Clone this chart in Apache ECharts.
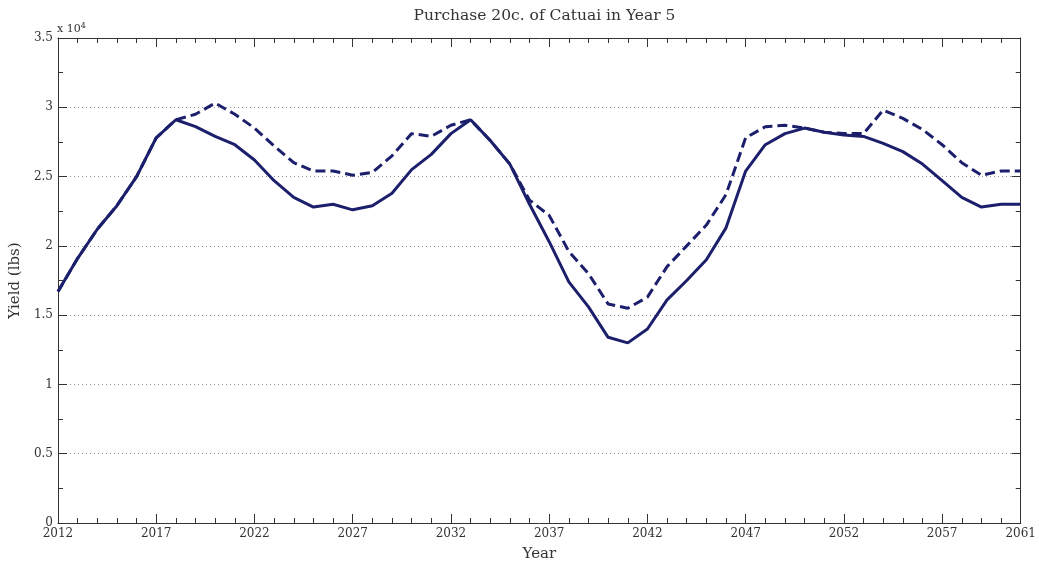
<!DOCTYPE html>
<html>
<head>
<meta charset="utf-8">
<script src="https://cdn.jsdelivr.net/npm/echarts@6/dist/echarts.min.js"></script>
<style>
html,body{margin:0;padding:0;background:#fff;}
#chart{width:1039px;height:567px;}
</style>
</head>
<body>
<div id="chart"></div>
<script>
const years = [2012,2013,2014,2015,2016,2017,2018,2019,2020,2021,2022,2023,2024,2025,2026,2027,2028,2029,2030,2031,2032,2033,2034,2035,2036,2037,2038,2039,2040,2041,2042,2043,2044,2045,2046,2047,2048,2049,2050,2051,2052,2053,2054,2055,2056,2057,2058,2059,2060,2061];
const baseline = [16700,19100,21200,22900,25000,27800,29100,28600,27900,27300,26200,24700,23500,22800,23000,22600,22900,23800,25500,26600,28100,29100,27600,25900,23000,20300,17400,15600,13400,13000,14000,16100,17500,19000,21300,25400,27300,28100,28500,28200,28000,27900,27400,26800,25900,24700,23500,22800,23000,23000];
const purchase = [16700,19100,21200,22900,25000,27800,29100,29500,30300,29500,28500,27200,26000,25400,25400,25100,25300,26500,28100,27900,28700,29100,27600,25900,23300,22200,19600,18000,15800,15500,16300,18500,20000,21500,23700,27800,28600,28700,28500,28200,28100,28100,29800,29200,28400,27300,26000,25100,25400,25400];
const xTickYears = [2012,2017,2022,2027,2032,2037,2042,2047,2052,2057,2061];
const yTickValues = [0,5000,10000,15000,20000,25000,30000,35000];

const firstYear = years[0];
const lastYear = years[years.length-1];
const lineColor = '#1c1f6b';
const axisColor = '#333333';
const fontFam = 'DejaVu Serif';

const chart = echarts.init(document.getElementById('chart'), null, {renderer:'canvas'});

const xCommon = {
  type:'value', min:0, max:lastYear-firstYear, interval:5,
  axisLine:{show:true, onZero:false, lineStyle:{color:axisColor, width:1}},
  axisTick:{show:true, inside:true, length:9, lineStyle:{color:axisColor}},
  minorTick:{show:true, splitNumber:5, length:5, lineStyle:{color:axisColor}},
  splitLine:{show:false}
};
const yCommon = {
  type:'value', min:0, max:35000, interval:5000,
  axisLine:{show:true, onZero:false, lineStyle:{color:axisColor, width:1}},
  axisTick:{show:true, inside:true, length:9, lineStyle:{color:axisColor}},
  minorTick:{show:true, splitNumber:2, length:5, lineStyle:{color:axisColor}}
};

chart.setOption({
  animation:false,
  backgroundColor:'#ffffff',
  title:{
    text:'Purchase 20c. of Catuai in Year 5',
    left:539.5, top:3, textAlign:'center',
    textStyle:{fontFamily:fontFam, fontWeight:'normal', fontSize:15.5, color:'#333'}
  },
  grid:{left:57, right:17, top:38, bottom:39, containLabel:false},
  graphic:[{
    type:'text', left:57, top:22,
    style:{
      text:'x 10{s|4}',
      rich:{s:{fontSize:8, verticalAlign:'top', padding:[0,0,6,0], fontFamily:fontFam, fill:'#333'}},
      fontFamily:fontFam, fontSize:11, fill:'#333'
    }
  }],
  xAxis:[
    Object.assign({}, xCommon, {
      position:'bottom',
      name:'Year', nameLocation:'middle', nameGap:24,
      nameTextStyle:{fontFamily:fontFam, fontSize:15, color:'#333'},
      axisLabel:{show:true, margin:5, fontFamily:fontFam, fontSize:12, color:'#333',
        showMinLabel:true, showMaxLabel:true,
        formatter:function(v){ const y = Math.round(v)+firstYear; return xTickYears.indexOf(y)>=0 ? String(y) : ''; }}
    }),
    Object.assign({}, xCommon, {position:'top', axisLabel:{show:false}})
  ],
  yAxis:[
    Object.assign({}, yCommon, {
      position:'left',
      name:'Yield (lbs)', nameLocation:'middle', nameGap:34, nameRotate:90,
      nameTextStyle:{fontFamily:fontFam, fontSize:15, color:'#333'},
      axisLabel:{show:true, margin:5, fontFamily:fontFam, fontSize:12, color:'#333',
        formatter:function(v){ return yTickValues.indexOf(v)>=0 ? String(+(v/10000).toFixed(2)) : ''; }},
      splitLine:{show:true, showMinLine:false, showMaxLine:false, lineStyle:{color:'#8a8a8a', type:[1,3], width:1}}
    }),
    Object.assign({}, yCommon, {position:'right', axisLabel:{show:false}, splitLine:{show:false}})
  ],
  series:[
    {
      name:'Purchase', type:'line', xAxisIndex:0, yAxisIndex:0, symbol:'none',
      data: years.map((y,i)=>[y-firstYear, purchase[i]]),
      lineStyle:{color:lineColor, width:3, type:[10,5]}, z:2
    },
    {
      name:'Baseline', type:'line', xAxisIndex:0, yAxisIndex:0, symbol:'none',
      data: years.map((y,i)=>[y-firstYear, baseline[i]]),
      lineStyle:{color:lineColor, width:3, type:'solid'}, z:3
    }
  ]
});
</script>
</body>
</html>
